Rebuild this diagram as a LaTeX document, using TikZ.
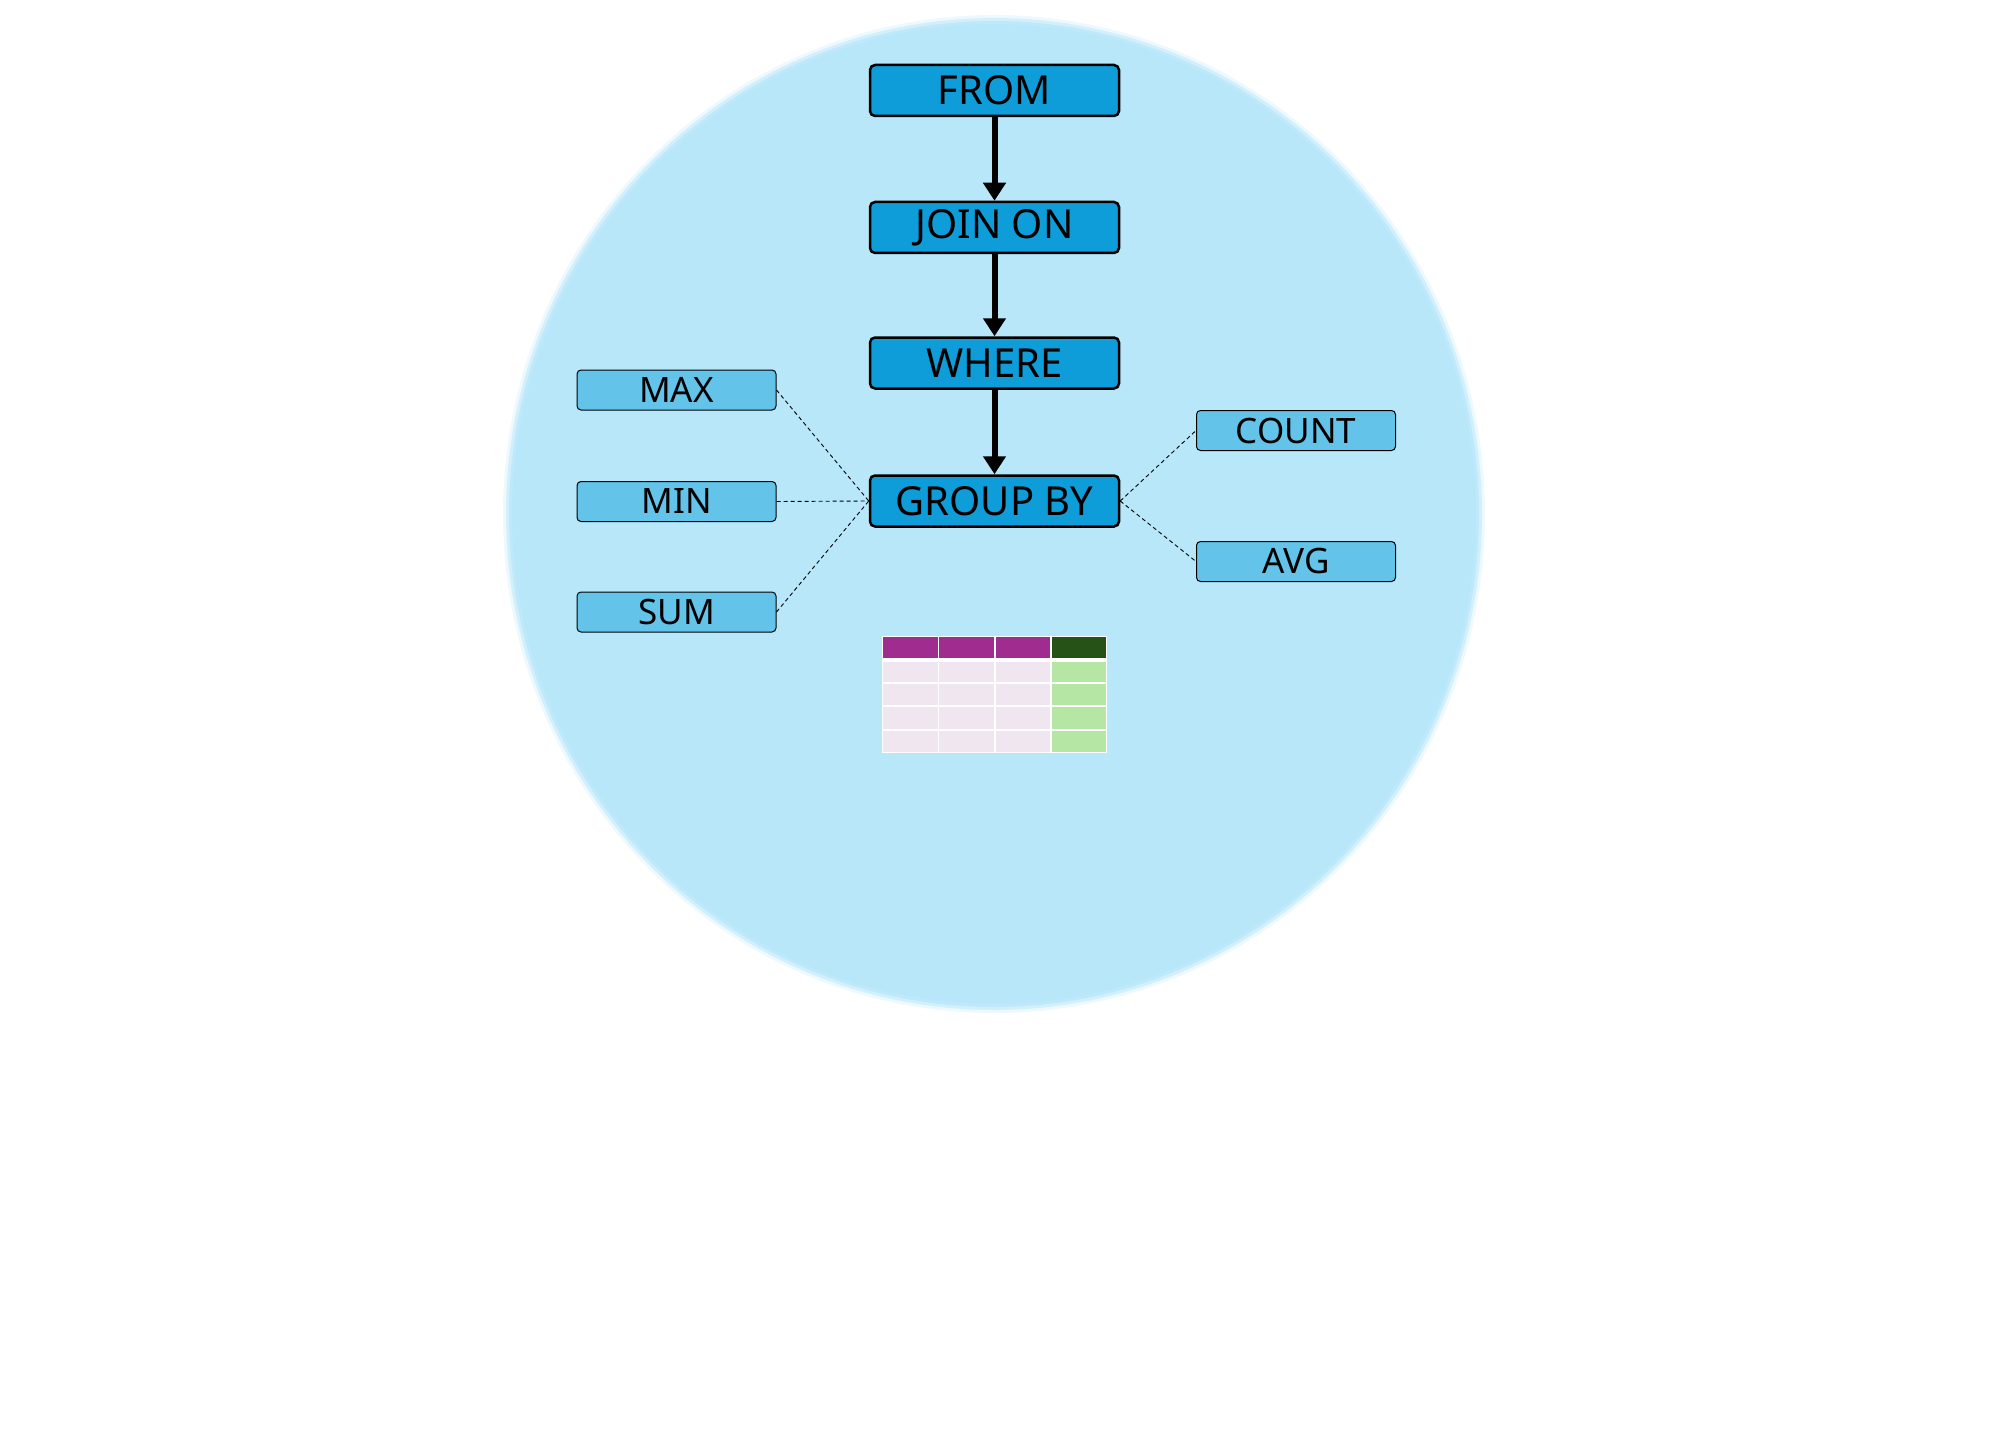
\documentclass[tikz,border=0pt]{standalone}
\usepackage{fontspec}
\setmainfont{Noto Sans}
\usetikzlibrary{arrows.meta}
\definecolor{bgc}{HTML}{B8E7FA}
\definecolor{mainc}{HTML}{0E9DD8}
\definecolor{sidec}{HTML}{63C3E8}
\definecolor{hdp}{HTML}{A02C8F}
\definecolor{hdg}{HTML}{265217}
\definecolor{cellp}{HTML}{EFE6EF}
\definecolor{cellg}{HTML}{B5E6A3}
\tikzset{
  mainbox/.style={draw=black,line width=2.5pt,fill=mainc,rounded corners=5pt,minimum width=249pt,minimum height=51pt,inner sep=0pt,font=\fontsize{40}{42}\selectfont},
  sidebox/.style={draw=black,line width=1pt,fill=sidec,rounded corners=4pt,minimum width=199pt,minimum height=40pt,inner sep=0pt,font=\fontsize{35}{37}\selectfont},
  flow/.style={line width=6pt,-{Triangle[length=18pt,width=22pt]}},
  dl/.style={dashed,line width=0.9pt,dash pattern=on 4pt off 3pt}
}
\begin{document}
\begin{tikzpicture}[x=1pt,y=-1pt]
\useasboundingbox (0,0) rectangle (1990,1442);
\foreach \r/\o in {6/0.25,3/0.5,0/0.75,-3/1}{\fill[bgc,opacity=\o] (994,514) ellipse ({485+\r} and {493+\r});}
\node[mainbox] (from) at (994.5,90.5) {FROM};
\node[mainbox] (join) at (994.5,227.5) {JOIN ON};
\node[mainbox] (where) at (994.5,363) {WHERE};
\node[mainbox] (group) at (994.5,501) {GROUP BY};
\draw[flow] (from) -- (join);
\draw[flow] (join) -- (where);
\draw[flow] (where) -- (group);
\node[sidebox] (max) at (676.5,390) {MAX};
\node[sidebox] (min) at (676.5,501.5) {MIN};
\node[sidebox] (sum) at (676.5,612) {SUM};
\node[sidebox] (count) at (1296,430.5) {COUNT};
\node[sidebox] (avg) at (1296,561.5) {AVG};
\draw[dl] (max.east) -- (group.west);
\draw[dl] (min.east) -- (group.west);
\draw[dl] (sum.east) -- (group.west);
\draw[dl] (group.east) -- (count.west);
\draw[dl] (group.east) -- (avg.west);
% table
\fill[white] (882,636) rectangle (1107,753);
\foreach \i in {0,1,2}{
  \fill[hdp] (883+\i*56.25,637) rectangle (881.5+\i*56.25+56.25,658);
  \foreach \a/\b in {662/681.5,683.5/704.5,706.5/728.5,730.5/752}{\fill[cellp] (883+\i*56.25,\a) rectangle (881.5+\i*56.25+56.25,\b);}
}
\fill[hdg] (1051.75,637) rectangle (1106,658);
\foreach \a/\b in {662/681.5,683.5/704.5,706.5/728.5,730.5/752}{\fill[cellg] (1051.75,\a) rectangle (1106,\b);}
\end{tikzpicture}
\end{document}
